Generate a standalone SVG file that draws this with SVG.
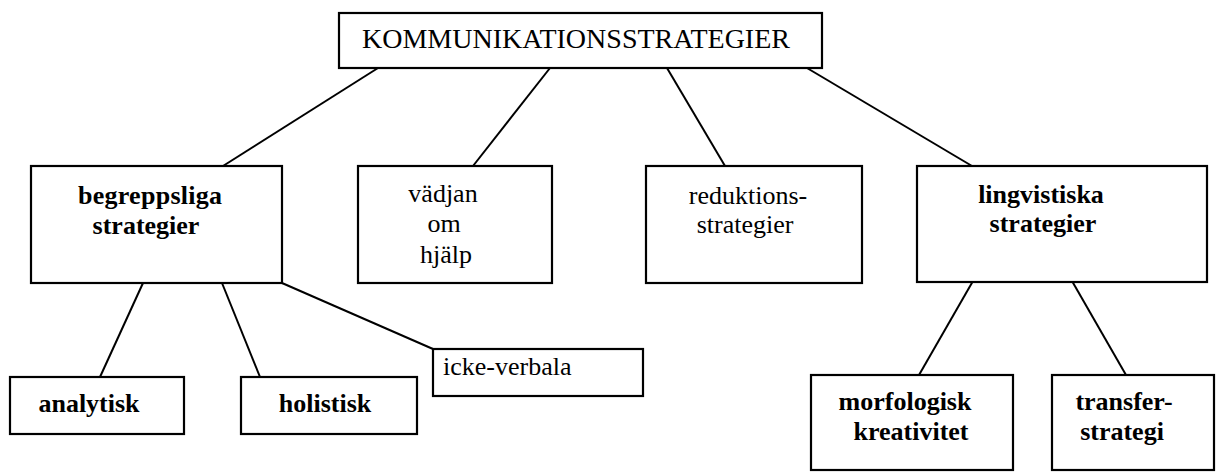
<svg xmlns="http://www.w3.org/2000/svg" width="1220" height="472" viewBox="0 0 1220 472">
<style>
.box{fill:#fff;stroke:#000;stroke-width:2.2}
text{font-family:"Liberation Serif","Times New Roman",Times,serif;font-size:26px;fill:#000}
.b{font-weight:bold}
.m{text-anchor:middle}
.c{stroke:#000;stroke-width:2;fill:none}
</style>
<rect width="1220" height="472" fill="#fff"/>
<g id="connectors">
<line class="c" x1="378" y1="68" x2="223" y2="166"/>
<line class="c" x1="550" y1="68" x2="473" y2="166"/>
<line class="c" x1="667" y1="68" x2="725" y2="166"/>
<line class="c" x1="807" y1="68" x2="972" y2="166"/>
<line class="c" x1="143" y1="283" x2="100" y2="377"/>
<line class="c" x1="222" y1="283" x2="260" y2="377"/>
<line class="c" x1="282" y1="283" x2="433" y2="349"/>
<line class="c" x1="973" y1="281" x2="919" y2="375"/>
<line class="c" x1="1072" y1="281" x2="1126" y2="375"/>
</g>
<g id="root">
<rect class="box" x="339" y="13" width="483" height="55"/>
<text x="362" y="48" style="font-size:27px" textLength="428" lengthAdjust="spacingAndGlyphs">KOMMUNIKATIONSSTRATEGIER</text>
</g>
<g id="begreppsliga">
<rect class="box" x="31" y="166" width="251" height="117"/>
<text class="b m" x="150" y="204" textLength="144">begreppsliga</text>
<text class="b m" x="146" y="234">strategier</text>
</g>
<g id="vadjan">
<rect class="box" x="358" y="166" width="194" height="117"/>
<text class="m" x="443" y="202">vädjan</text>
<text class="m" x="444" y="232">om</text>
<text class="m" x="446" y="263">hjälp</text>
</g>
<g id="reduktions">
<rect class="box" x="646" y="166" width="216" height="117"/>
<text class="m" x="748" y="204">reduktions-</text>
<text class="m" x="745" y="233">strategier</text>
</g>
<g id="lingvistiska">
<rect class="box" x="917" y="166" width="290" height="116"/>
<text class="b m" x="1041" y="203">lingvistiska</text>
<text class="b m" x="1043" y="232">strategier</text>
</g>
<g id="analytisk">
<rect class="box" x="10" y="377" width="174" height="57"/>
<text class="b m" x="89" y="412">analytisk</text>
</g>
<g id="holistisk">
<rect class="box" x="241" y="377" width="176" height="57"/>
<text class="b m" x="325" y="412">holistisk</text>
</g>
<g id="icke-verbala">
<rect class="box" x="433" y="349" width="210" height="47"/>
<text x="443" y="375">icke-verbala</text>
</g>
<g id="morfologisk">
<rect class="box" x="811" y="375" width="202" height="95"/>
<text class="b m" x="905" y="410">morfologisk</text>
<text class="b m" x="911" y="440">kreativitet</text>
</g>
<g id="transfer">
<rect class="box" x="1052" y="375" width="162" height="95"/>
<text class="b m" x="1124" y="410">transfer-</text>
<text class="b m" x="1122" y="440">strategi</text>
</g>
</svg>
